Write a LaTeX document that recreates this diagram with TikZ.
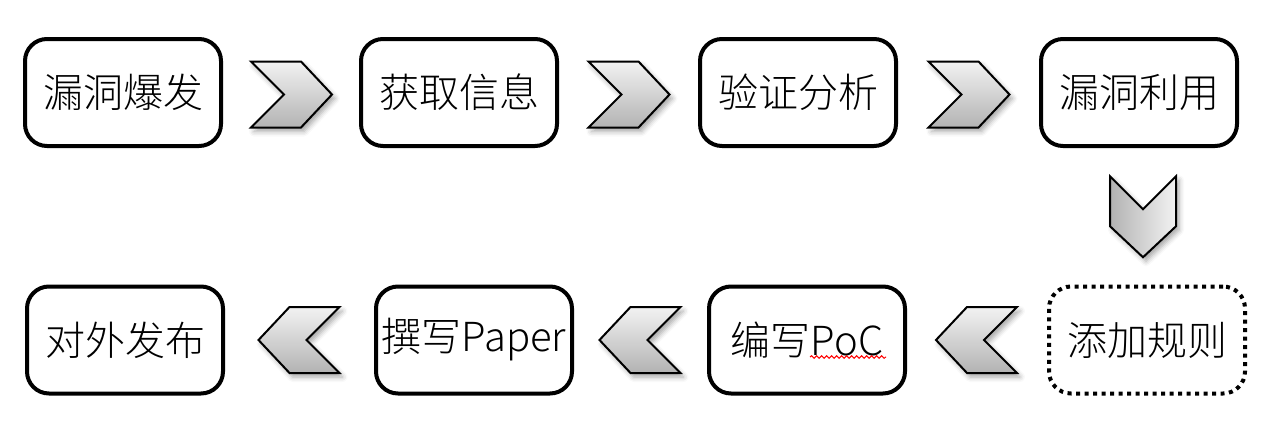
\documentclass[tikz,border=0pt]{standalone}
\usepackage{fontspec}
\IfFontExistsTF{Noto Sans CJK SC Light}{\setmainfont{Noto Sans CJK SC Light}}{\setmainfont{Noto Sans CJK SC}}
\usetikzlibrary{shadows.blur,decorations.pathmorphing,calc}
\begin{document}
\begin{tikzpicture}[x=1pt,y=-1pt,
  stepbox/.style={draw=black,line width=4pt,rounded corners=22pt,minimum width=196pt,minimum height=107pt,inner sep=0pt,font=\fontsize{40}{44}\selectfont,fill=white},
  dotbox/.style={stepbox,dash pattern=on 4pt off 4.5pt},
  chev/.style={draw=black,line width=2pt,line join=miter,
    blur shadow={shadow xshift=3pt,shadow yshift=-4pt,shadow blur radius=5pt,shadow opacity=35}},
  chevH/.style={chev,top color=black!5,bottom color=black!30},
  chevV/.style={chev,left color=black!30,right color=black!5},
  squiggle/.style={draw=red,line width=1pt,decorate,decoration={snake,amplitude=1.3pt,segment length=5pt}}]
\useasboundingbox (0,0) rectangle (1284,442);
% boxes
\node[stepbox] (b1) at (123,92.5) {漏洞爆发};
\node[stepbox] (b2) at (459,92.5) {获取信息};
\node[stepbox] (b3) at (798,92.5) {验证分析};
\node[stepbox] (b4) at (1139,92.5) {漏洞利用};
\node[stepbox] (b5) at (125,340) {对外发布};
\node[stepbox] (b6) at (474,340) {撰写Paper};
\node[stepbox] (b7) at (807,340) {编写PoC};
\node[dotbox]  (b8) at (1147,340) {添加规则};
% chevron positions
\coordinate (c1) at ($(b1.east)!0.5!(b2.west)+(0,2)$);
\coordinate (c2) at ($(b2.east)!0.5!(b3.west)+(0,2)$);
\coordinate (c3) at ($(b3.east)!0.5!(b4.west)+(0,2)$);
\coordinate (c4) at ($(b4.south)!0.5!(b8.north)$);
\coordinate (c5) at ($(b5.east)!0.5!(b6.west)$);
\coordinate (c6) at ($(b6.east)!0.5!(b7.west)$);
\coordinate (c7) at ($(b7.east)!0.5!(b8.west)$);
% right-pointing
\foreach \c in {c1,c2,c3}{
  \path[chevH] ($(\c)+(-40,-33)$) -- ++(50,0) -- ++(31,33) -- ++(-31,33) -- ++(-50,0) -- ++(33,-33) -- cycle;
}
% left-pointing
\foreach \c in {c5,c6,c7}{
  \path[chevH] ($(\c)+(40,-33)$) -- ++(-50,0) -- ++(-31,33) -- ++(31,33) -- ++(50,0) -- ++(-33,-33) -- cycle;
}
% down-pointing
\path[chevV] ($(c4)+(-33,-40)$) -- ++(33,33) -- ++(33,-33) -- ++(0,50) -- ++(-33,31) -- ++(-33,-31) -- cycle;
% spell-check underline under PoC
\coordinate (u1) at ($(b7.center)+(3,17)$);
\coordinate (u2) at ($(b7.center)+(79,17)$);
\draw[squiggle] (u1) -- (u2);
\end{tikzpicture}
\end{document}
